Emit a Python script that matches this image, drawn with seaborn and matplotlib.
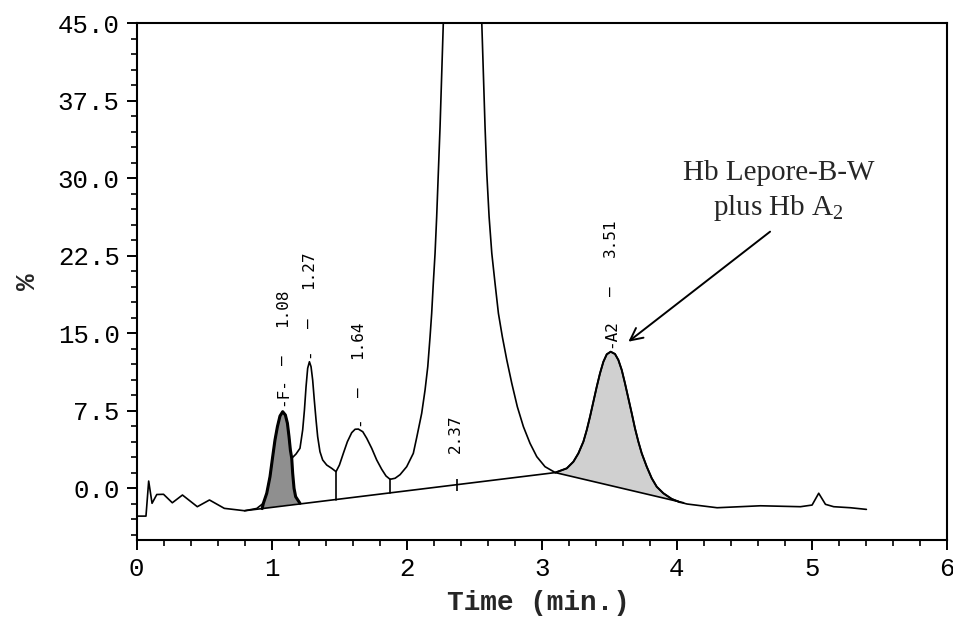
import numpy as np
import pandas as pd
import matplotlib
matplotlib.use("Agg")
import matplotlib.pyplot as plt
import seaborn as sns
from matplotlib.ticker import MultipleLocator, FormatStrFormatter

# Detector trace: time (min) and signal (%)
trace_time = [0.00, 0.07, 0.09, 0.115, 0.15, 0.20, 0.265, 0.34, 0.45, 0.54,
              0.65, 0.80, 0.89, 0.939, 0.964, 0.988, 1.008, 1.025, 1.043, 1.062,
              1.082, 1.102, 1.117, 1.129, 1.139, 1.149, 1.181, 1.210, 1.230, 1.243,
              1.255, 1.267, 1.280, 1.292, 1.304, 1.316, 1.329, 1.341, 1.358, 1.378,
              1.408, 1.445, 1.477, 1.502, 1.531, 1.561, 1.593, 1.618, 1.642, 1.675,
              1.704, 1.741, 1.778, 1.815, 1.847, 1.877, 1.914, 1.951, 2.000, 2.049,
              2.074, 2.111, 2.136, 2.156, 2.173, 2.185, 2.197, 2.210, 2.222, 2.234,
              2.247, 2.259, 2.271, 2.29, 2.41, 2.54, 2.556, 2.568, 2.580, 2.593,
              2.610, 2.630, 2.654, 2.679, 2.708, 2.741, 2.778, 2.819, 2.864, 2.913,
              2.963, 3.024, 3.10, 3.185, 3.234, 3.271, 3.308, 3.333, 3.357, 3.382,
              3.407, 3.431, 3.456, 3.481, 3.510, 3.542, 3.567, 3.592, 3.616, 3.641,
              3.666, 3.690, 3.715, 3.740, 3.777, 3.814, 3.851, 3.900, 3.962, 4.024,
              4.076, 4.298, 4.619, 4.915, 5.001, 5.050, 5.10, 5.161, 5.285, 5.403]
trace_signal = [-2.69, -2.69, 0.70, -1.45, -0.60, -0.58, -1.40, -0.65, -1.78, -1.13,
                -1.94, -2.17, -1.95, -1.45, -0.48, 1.12, 3.06, 4.67, 5.96, 6.99,
                7.41, 7.09, 6.29, 4.99, 3.70, 2.90, 3.32, 3.87, 5.64, 7.57,
                9.83, 11.61, 12.24, 11.76, 10.47, 8.54, 6.61, 4.99, 3.54, 2.74,
                2.25, 1.93, 1.61, 2.25, 3.38, 4.51, 5.38, 5.71, 5.73, 5.47,
                4.84, 3.87, 2.74, 1.84, 1.19, 0.87, 0.97, 1.32, 2.09, 3.38,
                4.90, 7.25, 9.51, 11.76, 14.66, 16.92, 19.83, 22.73, 26.27, 30.46,
                34.97, 39.81, 44.97, 53.0, 62.0, 53.0, 44.97, 39.81, 34.97, 30.46,
                26.27, 22.73, 19.83, 16.92, 14.66, 12.41, 10.15, 7.89, 5.96, 4.35,
                3.06, 2.09, 1.52, 1.93, 2.57, 3.38, 4.51, 5.64, 6.92, 8.38,
                9.83, 11.12, 12.24, 12.96, 13.21, 12.99, 12.41, 11.44, 10.15, 8.70,
                7.25, 5.80, 4.51, 3.38, 2.09, 0.97, 0.15, -0.48, -1.03, -1.35,
                -1.52, -1.88, -1.69, -1.78, -1.62, -0.48, -1.55, -1.78, -1.88, -2.04]

# Hb F peak outline, resolved down to the baseline
f_time = [0.93, 0.939, 0.964, 0.988, 1.008, 1.025, 1.043, 1.062, 1.082, 1.102,
          1.117, 1.129, 1.139, 1.149, 1.156, 1.166, 1.178, 1.21]
f_signal = [-1.96, -1.45, -0.48, 1.12, 3.06, 4.67, 5.96, 6.99, 7.41, 7.09,
            6.29, 4.99, 3.70, 2.90, 1.45, 0.0, -0.81, -1.45]

# Integration baseline
base_time = [0.80, 3.10, 4.05]
base_signal = [-2.17, 1.52, -1.40]

# Valley drop lines
drop_time = [1.477, 1.877]
drop_signal = [1.61, 0.87]

# Peak annotations
peak_times = [1.08, 1.27, 1.64, 3.51]
peak_heights = [7.41, 12.24, 5.73, 13.21]
peak_marks = ["-F-", "-", "-", "-A2"]
peak_labels = ["1.08", "1.27", "1.64", "3.51"]
hba_time = 2.37
hba_label = "2.37"

x_ticks = [0, 1, 2, 3, 4, 5, 6]
y_ticks = [0.0, 7.5, 15.0, 22.5, 30.0, 37.5, 45.0]

# Label offsets above each apex (pixels)
mark_off = [20, 9, 8, 18]
dash_off = [51, 39, 37, 61]
time_off = [104, 92, 89, 114]

sns.set_theme(style="ticks")
plt.rcParams.update({
    "font.family": ["Liberation Mono", "DejaVu Sans"],
    "mathtext.fontset": "custom",
    "mathtext.rm": "Liberation Serif",
    "mathtext.it": "Liberation Serif:italic",
    "axes.linewidth": 1.5,
    "xtick.direction": "out",
    "ytick.direction": "out",
})

fig = plt.figure(figsize=(9.54, 6.17), dpi=100)
ax = fig.add_axes([0.1431, 0.1248, 0.8496, 0.8379])

df = pd.DataFrame({"time": trace_time, "signal": trace_signal})
sns.lineplot(data=df, x="time", y="signal", ax=ax, color="black", lw=1.2,
             sort=False, estimator=None)

# Shaded Hb F peak
ax.fill(np.r_[f_time, f_time[0]], np.r_[f_signal, f_signal[0]],
        color="#8f8f8f", lw=0)
ax.plot(f_time, f_signal, color="black", lw=2.2, solid_capstyle="round",
        solid_joinstyle="round")

# Shaded A2 peak between trace and baseline
t_arr = np.asarray(trace_time)
s_arr = np.asarray(trace_signal)
seg = (t_arr >= base_time[1]) & (t_arr <= base_time[2])
ax.fill(np.r_[t_arr[seg], base_time[2], base_time[1]],
        np.r_[s_arr[seg], base_signal[2], base_signal[1]],
        color="#d0d0d0", lw=0)
ax.plot(t_arr[seg], s_arr[seg], color="black", lw=1.4)

# Baseline and drop lines
ax.plot(base_time, base_signal, color="black", lw=1.2)
foot = np.interp(drop_time, base_time, base_signal)
for t, top, bot in zip(drop_time, drop_signal, foot):
    ax.plot([t, t], [bot, top], color="black", lw=1.2)
ax.plot([hba_time], [np.interp(hba_time, base_time, base_signal)],
        marker="|", ms=9, mew=1.2, color="black")

lab_font = dict(family="DejaVu Sans Mono", fontsize=11.5, rotation=90,
                ha="center", va="center", color="black")
for t, h, mk, lb, mo, do, to in zip(peak_times, peak_heights, peak_marks,
                                    peak_labels, mark_off, dash_off, time_off):
    ax.annotate(mk, xy=(t, h), xytext=(0, mo), textcoords="offset pixels", **lab_font)
    ax.annotate("\u2014", xy=(t, h), xytext=(0, do), textcoords="offset pixels", **lab_font)
    ax.annotate(lb, xy=(t, h), xytext=(0, to), textcoords="offset pixels", **lab_font)
ax.annotate(hba_label, xy=(hba_time, np.interp(hba_time, base_time, base_signal)),
            xytext=(-1, 51), textcoords="offset pixels", **lab_font)

# Callout for the A2 region
ax.annotate("", xy=(3.641, 14.18), xytext=(4.690, 24.82),
            arrowprops=dict(arrowstyle="->", color="black", lw=1.4,
                            mutation_scale=22, shrinkA=0, shrinkB=0))
ax.text(4.755, 28.7, "Hb Lepore-B-W\nplus Hb A$_\\mathrm{2}$",
        family="Liberation Serif", fontsize=21, ha="center", va="center",
        linespacing=1.35)

ax.set_xlim(0, 6)
ax.set_ylim(-5, 45)
ax.set_xticks(x_ticks)
ax.set_yticks(y_ticks)
ax.xaxis.set_minor_locator(MultipleLocator(0.2))
ax.yaxis.set_minor_locator(MultipleLocator(1.5))
ax.yaxis.set_major_formatter(FormatStrFormatter("%.1f"))
ax.tick_params(which="major", length=7, width=1.4, labelsize=18.5, pad=5,
               colors="black")
ax.tick_params(which="minor", length=4, width=1.2, colors="black")
for sp in ax.spines.values():
    sp.set_visible(True)
    sp.set_color("black")

ax.set_xlabel("Time (min.)", fontsize=20, fontweight="bold")
ax.set_ylabel("%", fontsize=20, fontweight="bold")
ax.xaxis.set_label_coords(0.496, -0.096)
ax.yaxis.set_label_coords(-0.118, 0.5)

fig.savefig("out.png", dpi=100, facecolor="white")
